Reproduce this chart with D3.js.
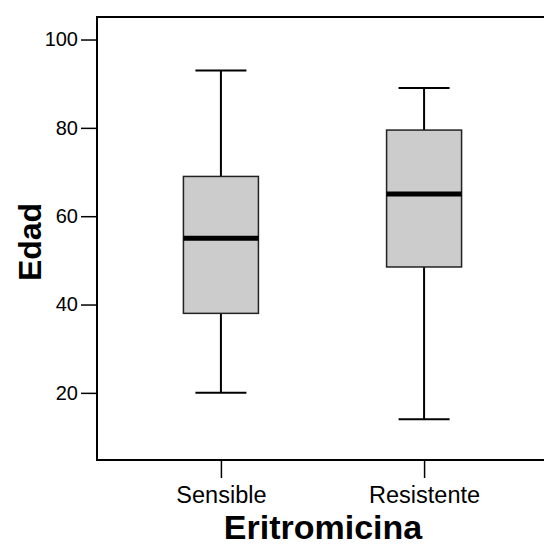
<!DOCTYPE html>
<html>
<head>
<meta charset="utf-8">
<script src="https://cdn.jsdelivr.net/npm/d3@7"></script>
<style>
  body { margin: 0; background: #fff; }
  svg { display: block; font-family: "Liberation Sans", Arial, sans-serif; }
  .axis path.domain { display: none; }
  .axis line { stroke: #000; stroke-width: 1.5; }
  .axis text { fill: #000; }
</style>
</head>
<body>
<script>
// data
const groups = ['Sensible', 'Resistente'];
const lowWhisker = [20, 14];
const q1 = [38, 48.5];
const medians = [55, 65];
const q3 = [69, 79.5];
const highWhisker = [93, 89];
const yTicks = [20, 40, 60, 80, 100];

const W = 544, H = 547;
const plotLeft = 97, plotRight = 548, plotTop = 17, plotBottom = 460;

const svg = d3.select('body').append('svg')
    .attr('width', W)
    .attr('height', H);

const y = d3.scaleLinear().domain([4.8, 105.1]).range([plotBottom, plotTop]);
const x = d3.scalePoint().domain(groups).range([plotLeft, plotRight]).padding(0.61);

const boxes = groups.map(function(g, i) {
    return {name: g, lo: lowWhisker[i], q1: q1[i], med: medians[i], q3: q3[i], hi: highWhisker[i]};
});

// frame (right side runs off the picture)
svg.append('rect')
    .attr('x', plotLeft).attr('y', plotTop)
    .attr('width', plotRight - plotLeft).attr('height', plotBottom - plotTop)
    .attr('fill', 'none')
    .attr('stroke', '#000')
    .attr('stroke-width', 2);

svg.append('g')
    .attr('class', 'axis')
    .attr('transform', 'translate(' + plotLeft + ',0)')
    .call(d3.axisLeft(y).tickValues(yTicks).tickSize(16).tickPadding(3))
    .selectAll('text')
    .attr('font-size', '20px')
    .attr('font-family', '"Liberation Sans", Arial, sans-serif');

svg.append('g')
    .attr('class', 'axis')
    .attr('transform', 'translate(0,' + plotBottom + ')')
    .call(d3.axisBottom(x).tickSize(18).tickPadding(8))
    .selectAll('text')
    .attr('font-size', '23.5px')
    .attr('font-family', '"Liberation Sans", Arial, sans-serif');

const boxW = 75, capW = 51;

const g = svg.selectAll('g.box')
    .data(boxes)
    .enter().append('g')
    .attr('class', 'box');

// whiskers
g.append('line')
    .attr('x1', function(d) { return x(d.name); })
    .attr('x2', function(d) { return x(d.name); })
    .attr('y1', function(d) { return y(d.hi); })
    .attr('y2', function(d) { return y(d.lo); })
    .attr('stroke', '#000').attr('stroke-width', 2);

['hi', 'lo'].forEach(function(k) {
    g.append('line')
        .attr('x1', function(d) { return x(d.name) - capW / 2; })
        .attr('x2', function(d) { return x(d.name) + capW / 2; })
        .attr('y1', function(d) { return y(d[k]); })
        .attr('y2', function(d) { return y(d[k]); })
        .attr('stroke', '#000').attr('stroke-width', 2);
});

g.append('rect')
    .attr('x', function(d) { return x(d.name) - boxW / 2; })
    .attr('y', function(d) { return y(d.q3); })
    .attr('width', boxW)
    .attr('height', function(d) { return y(d.q1) - y(d.q3); })
    .attr('fill', '#cccccc')
    .attr('stroke', '#222')
    .attr('stroke-width', 1.5);

g.append('line')
    .attr('x1', function(d) { return x(d.name) - boxW / 2; })
    .attr('x2', function(d) { return x(d.name) + boxW / 2; })
    .attr('y1', function(d) { return y(d.med); })
    .attr('y2', function(d) { return y(d.med); })
    .attr('stroke', '#000').attr('stroke-width', 5);

// axis titles
svg.append('text')
    .attr('x', 323).attr('y', 539)
    .attr('text-anchor', 'middle')
    .attr('font-size', '34px')
    .attr('font-weight', 'bold')
    .text('Eritromicina');

svg.append('text')
    .attr('transform', 'translate(41,242) rotate(-90)')
    .attr('text-anchor', 'middle')
    .attr('font-size', '32px')
    .attr('font-weight', 'bold')
    .text('Edad');
</script>
</body>
</html>
